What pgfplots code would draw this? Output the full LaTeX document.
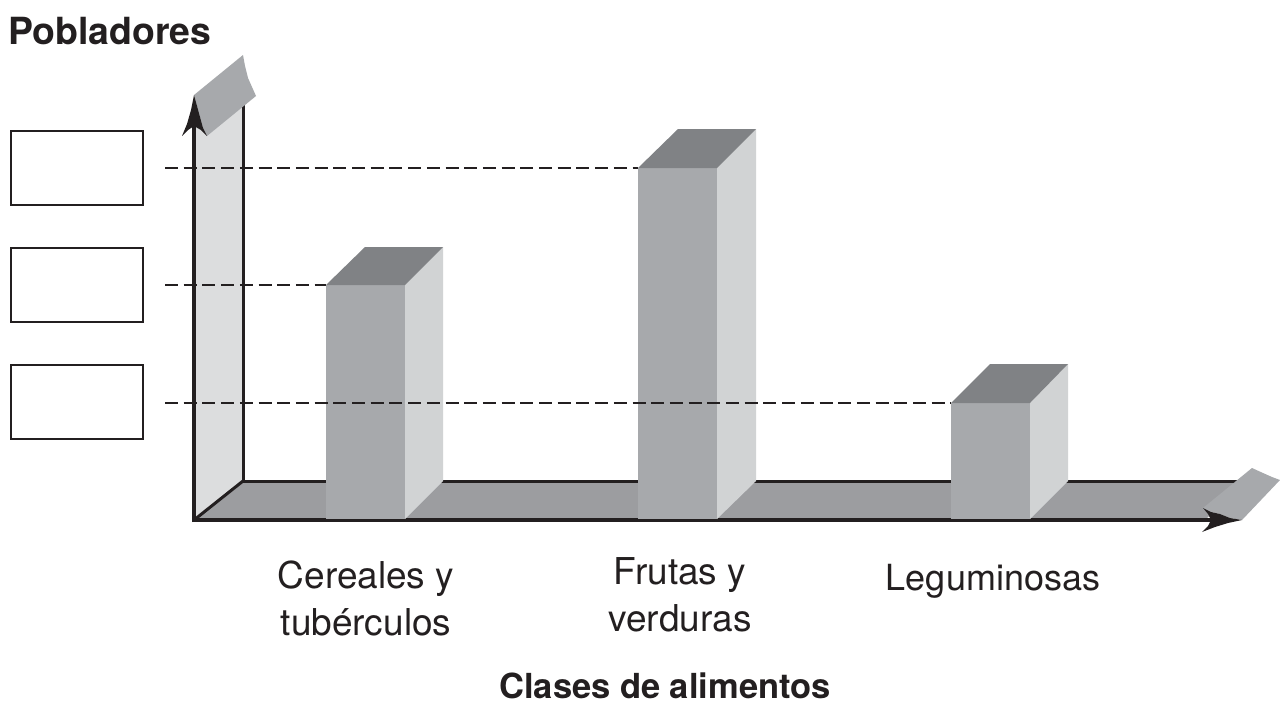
\documentclass[border=0pt]{standalone}
\usepackage{fontspec}
\setmainfont{TeX Gyre Heros}
\usepackage{pgfplots}
\pgfplotsset{compat=1.18}
\definecolor{ink}{HTML}{231F20}
\definecolor{front}{HTML}{A7A9AC}
\definecolor{sidec}{HTML}{D1D3D4}
\definecolor{topc}{HTML}{808285}
\definecolor{floorc}{HTML}{9C9DA0}
\definecolor{wallc}{HTML}{DCDDDE}
\begin{document}
\begin{tikzpicture}
\begin{axis}[
  scale only axis, width=1280pt, height=702pt,
  xmin=0, xmax=1280, ymin=0, ymax=702, y dir=reverse,
  axis lines=none, clip=false, no markers,
  axis background/.style={fill=white},
  every axis plot/.append style={line join=miter, line cap=butt},
]
% wall and floor
\addplot[fill=wallc, draw=none] coordinates {(194,520) (243,481) (243,60) (194,100)} --cycle;
\addplot[fill=floorc, draw=none] coordinates {(194,520) (243,481) (1245,481) (1205,520)} --cycle;
% axis frame lines
\addplot[ink, line width=3pt] coordinates {(243,100) (243,481) (1240,481)};
\addplot[ink, line width=3pt] coordinates {(194,520) (243,481)};
\addplot[ink, line width=3.5pt] coordinates {(194,522) (194,120)};
\addplot[ink, line width=3.5pt] coordinates {(194,520) (1215,520)};
% bars
\addplot[fill=front, draw=none] coordinates {(326,285) (405,285) (405,519) (326,519)} --cycle;
\addplot[fill=sidec, draw=none] coordinates {(405,285) (443,247) (443,481) (405,519)} --cycle;
\addplot[fill=topc, draw=none] coordinates {(326,285) (365,247) (443,247) (405,285)} --cycle;
\addplot[fill=front, draw=none] coordinates {(638,168) (717,168) (717,519) (638,519)} --cycle;
\addplot[fill=sidec, draw=none] coordinates {(717,168) (756,129) (756,481) (717,519)} --cycle;
\addplot[fill=topc, draw=none] coordinates {(638,168) (678,129) (756,129) (717,168)} --cycle;
\addplot[fill=front, draw=none] coordinates {(951,403) (1030,403) (1030,519) (951,519)} --cycle;
\addplot[fill=sidec, draw=none] coordinates {(1030,403) (1068,364) (1068,481) (1030,519)} --cycle;
\addplot[fill=topc, draw=none] coordinates {(951,403) (990,364) (1068,364) (1030,403)} --cycle;
% guide lines
\addplot[ink, line width=1.2pt, dash pattern=on 13pt off 5.7pt] coordinates {(165,168) (638,168)};
\addplot[ink, line width=1.2pt, dash pattern=on 13pt off 5.7pt] coordinates {(165,285) (326,285)};
\addplot[ink, line width=1.2pt, dash pattern=on 13pt off 5.7pt] coordinates {(165,403) (951,403)};
% flags
\addplot[fill=front, draw=none] coordinates {(194,95) (243,55) (245,66) (248,78) (256,96) (207,136) (203,128) (200,117) (197,106)} --cycle;
\addplot[fill=front, draw=none] coordinates {(1203,508) (1252,468) (1263,473) (1272,477) (1280,480) (1242,520) (1230,518) (1220,514) (1211,512)} --cycle;
% arrow heads
\addplot[fill=ink, draw=none] coordinates {(194,95) (191,110) (187,124) (182,136) (188,130) (194,126) (201,130) (207,136) (203,128) (200,117) (197,106)} --cycle;
\addplot[fill=ink, draw=none] coordinates {(1203,508) (1211,512) (1220,514) (1230,518) (1242,520) (1228,523) (1215,527) (1202,532) (1208,526) (1211,520) (1208,514)} --cycle;
% answer boxes
\addplot[fill=white, draw=ink, line width=2.8pt] coordinates {(11,131) (143,131) (143,205) (11,205)} --cycle;
\addplot[fill=white, draw=ink, line width=2.8pt] coordinates {(11,248) (143,248) (143,322) (11,322)} --cycle;
\addplot[fill=white, draw=ink, line width=2.8pt] coordinates {(11,365) (143,365) (143,439) (11,439)} --cycle;
% text
\node[anchor=base west, inner sep=0pt, text=ink, font=\fontsize{37.4}{40}\selectfont\bfseries] at (axis cs:8,44) {Pobladores};
\node[anchor=base, inner sep=0pt, text=ink, font=\fontsize{34.5}{40}\selectfont\bfseries] at (axis cs:665,698) {Clases de alimentos};
\node[anchor=base, inner sep=0pt, text=ink, font=\fontsize{37}{40}\selectfont] at (axis cs:366,588) {Cereales y};
\node[anchor=base, inner sep=0pt, text=ink, font=\fontsize{37}{40}\selectfont] at (axis cs:366,635) {tubérculos};
\node[anchor=base, inner sep=0pt, text=ink, font=\fontsize{37}{40}\selectfont] at (axis cs:680,584) {Frutas y};
\node[anchor=base, inner sep=0pt, text=ink, font=\fontsize{37}{40}\selectfont] at (axis cs:680,631) {verduras};
\node[anchor=base, inner sep=0pt, text=ink, font=\fontsize{36}{40}\selectfont] at (axis cs:993,590) {Leguminosas};
\end{axis}
\end{tikzpicture}
\end{document}
